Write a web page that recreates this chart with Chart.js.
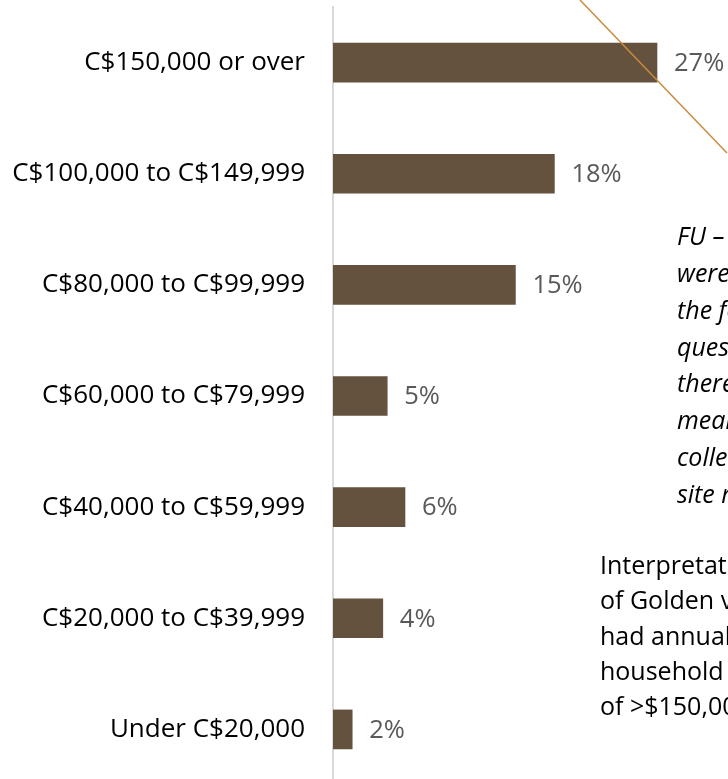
<!DOCTYPE html>
<html>
<head>
<meta charset="utf-8">
<script src="https://cdn.jsdelivr.net/npm/chart.js@4/dist/chart.umd.min.js"></script>
<style>
  html, body { margin: 0; padding: 0; background: #ffffff; overflow: hidden; }
  #wrap { width: 728px; height: 779px; overflow: hidden; }
</style>
</head>
<body>
<div id="wrap"><canvas id="income-chart" width="728" height="790"></canvas></div>
<script>
// Tranches de revenu du ménage (haut en bas) et part des répondants (%)
const incomeBands = [
    'C$150,000 or over',
    'C$100,000 to C$149,999',
    'C$80,000 to C$99,999',
    'C$60,000 to C$79,999',
    'C$40,000 to C$59,999',
    'C$20,000 to C$39,999',
    'Under C$20,000'
];
const shareValues = [27, 18.45, 15.2, 4.52, 6, 4.15, 1.6];

// Textes d'annotation à droite (coupés par le bord de l'image)
const noteLines = [
    'FU \u2013 Follow-up',
    'were asked',
    'the follow-up',
    'questionnaire,',
    'therefore the',
    'mean was',
    'collected off-',
    'site rather'
];
const interpretationLines = [
    'Interpretation: 27%',
    'of Golden visitors',
    'had annual',
    'household income',
    'of >$150,000'
];

const FONT = '"Open Sans", "Liberation Sans", sans-serif';
const BAR_COLOR = '#64523E';

// Étiquettes de valeur au bout des barres
const valueLabels = {
    id: 'valueLabels',
    afterDatasetsDraw(chart) {
        const ctx = chart.ctx;
        const meta = chart.getDatasetMeta(0);
        ctx.save();
        ctx.font = '25.5px ' + FONT;
        ctx.fillStyle = '#595959';
        ctx.textAlign = 'left';
        ctx.textBaseline = 'middle';
        meta.data.forEach((bar, i) => {
            ctx.fillText(Math.round(shareValues[i]) + '%', bar.x + 17, bar.y + 1);
        });
        ctx.restore();
    }
};

// Trait orange et blocs de texte sur la droite
const sideNotes = {
    id: 'sideNotes',
    afterDraw(chart) {
        const ctx = chart.ctx;
        ctx.save();
        ctx.strokeStyle = '#C98B3F';
        ctx.lineWidth = 1.5;
        ctx.beginPath();
        ctx.moveTo(580, 0);
        ctx.lineTo(727, 153);
        ctx.stroke();

        ctx.fillStyle = '#000000';
        ctx.textAlign = 'left';
        ctx.textBaseline = 'middle';
        ctx.font = 'italic 25px ' + FONT;
        noteLines.forEach((t, i) => ctx.fillText(t, 677, 238 + i * 36.8));
        ctx.font = '25px ' + FONT;
        interpretationLines.forEach((t, i) => ctx.fillText(t, 600, 567 + i * 35.3));
        ctx.restore();
    }
};

new Chart(document.getElementById('income-chart').getContext('2d'), {
    type: 'bar',
    data: {
        labels: incomeBands,
        datasets: [{
            data: shareValues,
            backgroundColor: BAR_COLOR,
            borderWidth: 0,
            barThickness: 39
        }]
    },
    options: {
        indexAxis: 'y',
        responsive: false,
        animation: false,
        layout: { padding: { top: 7, bottom: 5, left: 0, right: 35 } },
        plugins: {
            legend: { display: false },
            tooltip: { enabled: false }
        },
        scales: {
            x: {
                display: false,
                min: 0,
                max: 30
            },
            y: {
                afterFit(scale) {
                    scale.width = 333;
                    scale.paddingTop = 0;
                    scale.paddingBottom = 0;
                },
                grid: { display: false, drawTicks: false },
                border: { display: true, color: '#D9D9D9', width: 2 },
                ticks: {
                    padding: 28,
                    color: '#000000',
                    font: { family: FONT, size: 26 }
                }
            }
        }
    },
    plugins: [valueLabels, sideNotes]
});
</script>
</body>
</html>
